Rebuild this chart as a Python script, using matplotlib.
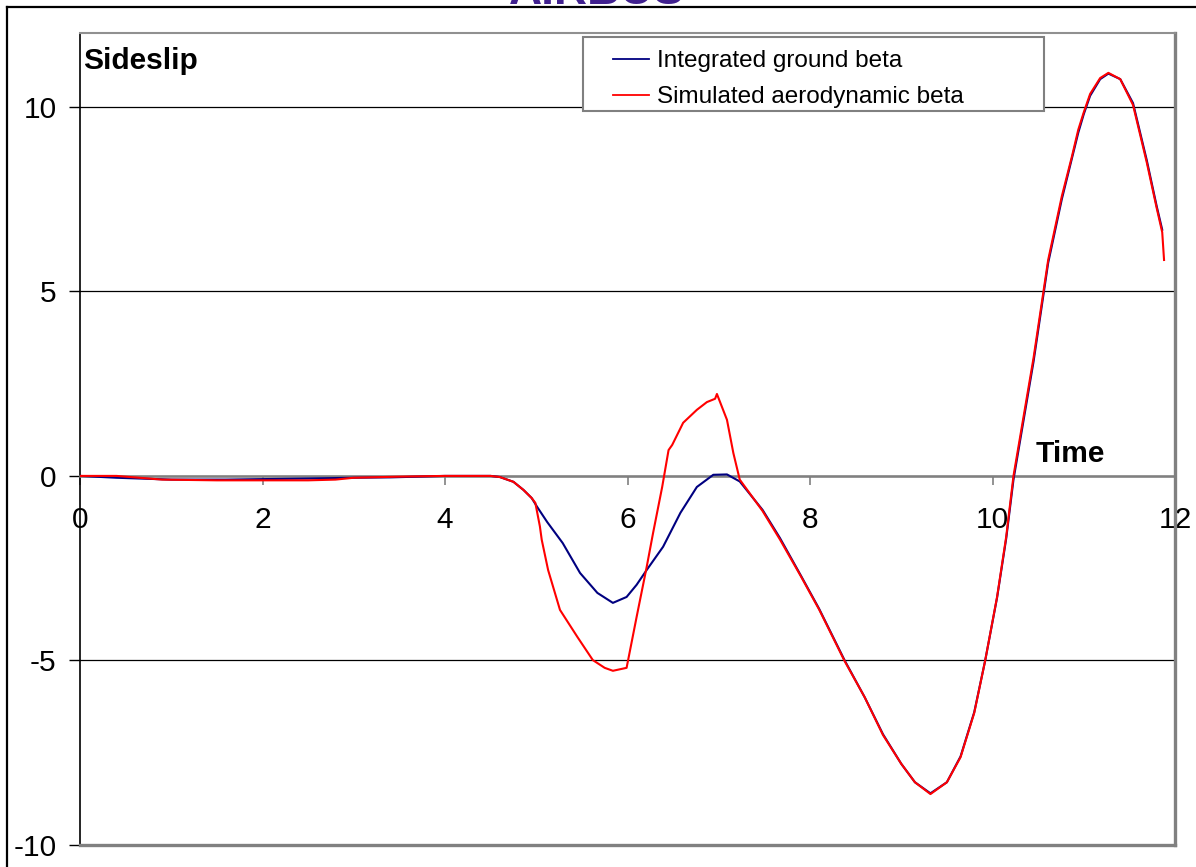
import matplotlib
matplotlib.use("Agg")
import matplotlib.pyplot as plt
from matplotlib.lines import Line2D
from matplotlib.patches import Rectangle

plt.rcParams['font.family'] = ['Liberation Sans', 'DejaVu Sans']

title_text = "AIRBUS"
y_label = "Sideslip"
x_label = "Time"
series_names = ["Integrated ground beta", "Simulated aerodynamic beta"]
x_ticks = [0, 2, 4, 6, 8, 10, 12]
y_ticks = [-10, -5, 0, 5, 10]

blue_t = [0.0, 0.4, 1.0, 1.6, 2.2, 2.5, 3.0, 3.4, 4.0, 4.5, 4.6, 4.75, 4.86, 4.95,
          5.01, 5.12, 5.29, 5.48, 5.67, 5.84, 5.99, 6.1, 6.21, 6.39, 6.58, 6.76,
          6.94, 7.09, 7.23, 7.48, 7.67, 7.9, 8.1, 8.38, 8.6, 8.8, 9.0, 9.15, 9.32,
          9.5, 9.65, 9.8, 9.92, 10.05, 10.15, 10.23, 10.34, 10.45, 10.61, 10.76,
          10.87, 10.94, 11.0, 11.07, 11.18, 11.27, 11.4, 11.54, 11.69, 11.8, 11.86]
blue_v = [0.0, -0.05, -0.1, -0.1, -0.08, -0.07, -0.05, -0.04, 0.0, 0.0, -0.03,
          -0.16, -0.38, -0.6, -0.84, -1.25, -1.82, -2.63, -3.17, -3.44, -3.28,
          -2.95, -2.55, -1.92, -1.0, -0.3, 0.03, 0.04, -0.15, -0.92, -1.68, -2.7,
          -3.6, -5.0, -6.0, -7.0, -7.8, -8.3, -8.6, -8.3, -7.6, -6.4, -5.0, -3.3,
          -1.7, -0.1, 1.5, 3.1, 5.77, 7.5, 8.6, 9.3, 9.8, 10.3, 10.75, 10.9,
          10.75, 10.1, 8.56, 7.3, 6.67]

red_t = [0.0, 0.4, 0.9, 1.5, 2.0, 2.5, 2.8, 3.0, 3.5, 4.0, 4.5, 4.6, 4.75, 4.86,
         4.95, 4.99, 5.04, 5.06, 5.13, 5.26, 5.45, 5.62, 5.75, 5.84, 5.99, 6.1,
         6.21, 6.28, 6.38, 6.45, 6.49, 6.61, 6.76, 6.87, 6.96, 6.98, 7.09, 7.16,
         7.23, 7.48, 7.67, 7.9, 8.1, 8.38, 8.6, 8.8, 9.0, 9.15, 9.32, 9.5, 9.65,
         9.8, 9.92, 10.05, 10.15, 10.23, 10.34, 10.45, 10.61, 10.76, 10.87, 10.94,
         11.0, 11.07, 11.18, 11.27, 11.4, 11.54, 11.69, 11.8, 11.86, 11.88]
red_v = [0.0, 0.0, -0.1, -0.12, -0.12, -0.12, -0.1, -0.05, -0.02, 0.0, 0.0, -0.03,
         -0.16, -0.38, -0.6, -0.73, -1.37, -1.73, -2.55, -3.63, -4.36, -4.99, -5.2,
         -5.28, -5.2, -3.82, -2.47, -1.55, -0.3, 0.7, 0.84, 1.44, 1.79, 2.0, 2.09,
         2.22, 1.52, 0.62, -0.1, -0.95, -1.72, -2.72, -3.62, -5.02, -6.0, -7.02,
         -7.8, -8.3, -8.62, -8.3, -7.62, -6.42, -5.0, -3.28, -1.65, 0.0, 1.6, 3.2,
         5.85, 7.58, 8.65, 9.38, 9.85, 10.35, 10.78, 10.92, 10.75, 10.05, 8.5,
         7.25, 6.6, 5.85]

W, H = 1196, 867
fig = plt.figure(figsize=(W / 100, H / 100), dpi=100)

def fx(px):
    return px / W

def fy(py):
    return 1 - py / H

ax = fig.add_axes([fx(80), fy(845), fx(1175) - fx(80), fy(33) - fy(845)])
ax.set_xlim(0, 12)
ax.set_ylim(-10, 12)

ax.plot(blue_t, blue_v, color='#000080', lw=1.5, zorder=3, label=series_names[0])
ax.plot(red_t, red_v, color='#ff0000', lw=1.5, zorder=4, label=series_names[1])

ax.set_yticks(y_ticks)
ax.set_yticklabels([str(v) for v in y_ticks])
ax.yaxis.grid(True, color='black', lw=0.9)
ax.set_xticks(x_ticks)
ax.set_xticklabels([str(v) for v in x_ticks])

ax.spines['bottom'].set_position(('data', 0))
ax.spines['bottom'].set_color('#808080')
ax.spines['bottom'].set_linewidth(1.8)
ax.spines['top'].set_color('#909090')
ax.spines['top'].set_linewidth(1.5)
ax.spines['right'].set_color('#808080')
ax.spines['right'].set_linewidth(2.4)
ax.spines['left'].set_color('black')
ax.spines['left'].set_linewidth(1.2)
ax.axhline(-10, color='#808080', lw=2.4, clip_on=False, zorder=5)

ax.tick_params(axis='x', direction='out', length=6.5, width=1.2, color='#808080',
               labelsize=21.5, pad=15)
ax.tick_params(axis='y', direction='out', length=8, width=1.0, color='black',
               labelsize=21.5, pad=9)

fig.text(fx(83), fy(69), y_label, fontsize=21.5, fontweight='bold', ha='left', va='baseline')
fig.text(fx(1036), fy(462), x_label, fontsize=21.5, fontweight='bold', ha='left', va='baseline')

# legend box
box = Rectangle((fx(583), fy(111)), fx(1044) - fx(583), fy(37) - fy(111),
                transform=fig.transFigure, facecolor='white',
                edgecolor='#808080', lw=1.5, zorder=6, clip_on=False)
ax.add_patch(box)
leg = ax.legend(loc='upper left', bbox_to_anchor=(fx(613), fy(50)),
                bbox_transform=fig.transFigure, frameon=False, fontsize=17.5,
                handlelength=1.5, handletextpad=0.3, labelspacing=0.58,
                borderpad=0, borderaxespad=0)
leg.set_zorder(7)
for h in leg.get_lines():
    h.set_linewidth(1.3)

fig.text(fx(597), fy(4), title_text, fontsize=33, fontweight='bold', color='#40208f',
         ha='center', va='baseline')

fig.add_artist(Line2D([fx(7), 1.0], [fy(7), fy(7)], color='black', lw=1.6,
                      transform=fig.transFigure))
fig.add_artist(Line2D([fx(7), fx(7)], [fy(7), 0.0], color='black', lw=1.6,
                      transform=fig.transFigure))

fig.savefig('out.png', dpi=100, facecolor='white')
